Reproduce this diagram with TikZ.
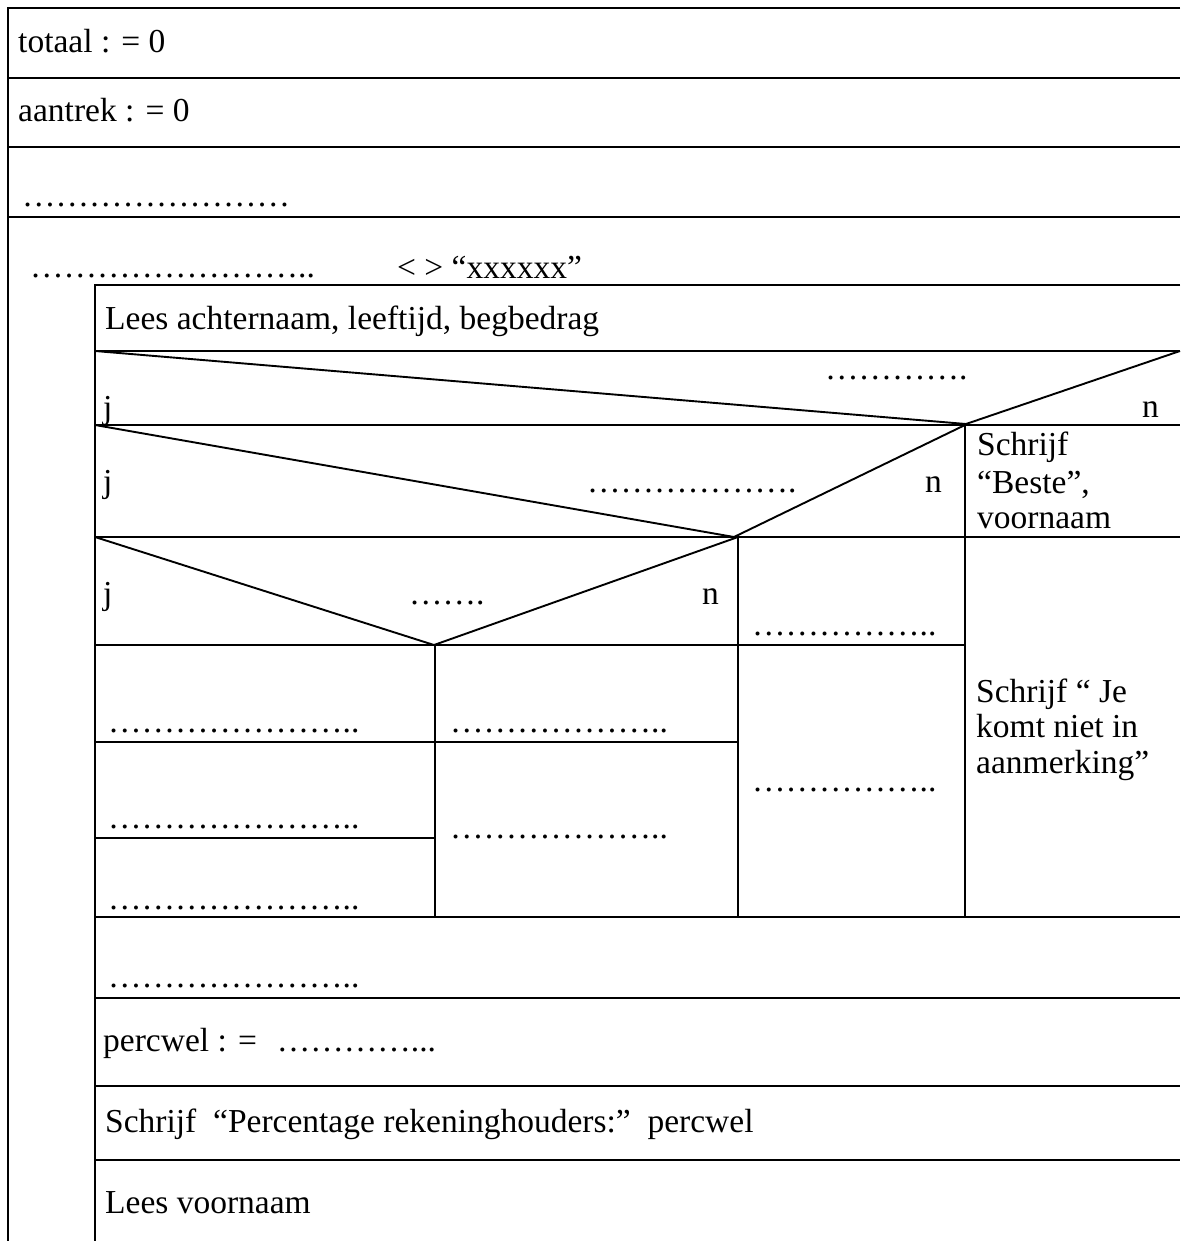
\documentclass[tikz,border=0pt]{standalone}
\usepackage{fontspec}
\setmainfont{Liberation Serif}
\newcommand\nsfont{\fontsize{33.5}{37}\selectfont}
\newcommand\el{…}
\tikzset{
  nsline/.style={line width=2.4pt},
  nsdiag/.style={line width=1.9pt},
  nstext/.style={anchor=base west, inner sep=0pt, font=\nsfont}
}
\begin{document}
\begin{tikzpicture}[x=1pt, y=-1pt, every node/.style={nstext}]
  \useasboundingbox (0,0) rectangle (1180,1241);
  \draw[nsline] (1180,8) -- (8,8) -- (8,1241);
  \foreach \y in {78,147,217} \draw[nsline] (8,\y) -- (1180,\y);
  \draw[nsline] (1180,285) -- (95,285) -- (95,1241);
  \foreach \y in {351,425,537,917,998,1086,1160} \draw[nsline] (95,\y) -- (1180,\y);
  \draw[nsline] (95,645) -- (965,645);
  \draw[nsline] (95,742) -- (738,742);
  \draw[nsline] (95,838) -- (435,838);
  \draw[nsline] (965,425) -- (965,917);
  \draw[nsline] (738,537) -- (738,917);
  \draw[nsline] (435,645) -- (435,917);
  \draw[nsdiag] (95,351) -- (966,424) -- (1180,351);
  \draw[nsdiag] (95,425) -- (734,537) -- (965,425);
  \draw[nsdiag] (95,537) -- (434,645) -- (738,537);
  \node (totaal) at (18,53) {totaal : = 0};
  \node (aantrek) at (18,122) {aantrek : = 0};
  \node (init) at (22,207) {\el\el\el\el\el\el\el\el};
  \node (lus) at (30,277) {\el\el\el\el\el\el\el\el..};
  \node (lusvw) at (397,278) {< > “xxxxxx”};
  \node (lees) at (105,329) {Lees achternaam, leeftijd, begbedrag};
  \node (vr1) at (825,379) {\el\el\el\el.};
  \node (ja1) at (103,418) {j};
  \node (nee1) at (1142,417) {n};
  \node (ja2) at (103,492) {j};
  \node (vr2) at (587,492) {\el\el\el\el\el\el.};
  \node (nee2) at (925,492) {n};
  \node (beste1) at (977,455) {Schrijf};
  \node (beste2) at (977,493) {“Beste”,};
  \node (beste3) at (977,528) {voornaam};
  \node (ja3) at (103,604) {j};
  \node (vr3) at (409,604) {\el\el.};
  \node (nee3) at (702,604) {n};
  \node (nee3a) at (752,635) {\el\el\el\el\el..};
  \node (ja3a) at (108,732) {\el\el\el\el\el\el\el..};
  \node (nee3b) at (450,732) {\el\el\el\el\el\el..};
  \node (ja3b) at (108,828) {\el\el\el\el\el\el\el..};
  \node (nee3c) at (450,838) {\el\el\el\el\el\el..};
  \node (ja3c) at (108,909) {\el\el\el\el\el\el\el..};
  \node (nee2a) at (752,791) {\el\el\el\el\el..};
  \node (niet1) at (976,702) {Schrijf “ Je};
  \node (niet2) at (976,737) {komt niet in};
  \node (niet3) at (976,773) {aanmerking”};
  \node (telop) at (108,987) {\el\el\el\el\el\el\el..};
  \node (perc) at (103,1051) {percwel : =\hspace{20pt}\el\el\el\el...};
  \node (schrijf) at (105,1132) {Schrijf\ \ “Percentage rekeninghouders:”\ \ percwel};
  \node (leesvn) at (105,1213) {Lees voornaam};
\end{tikzpicture}
\end{document}
